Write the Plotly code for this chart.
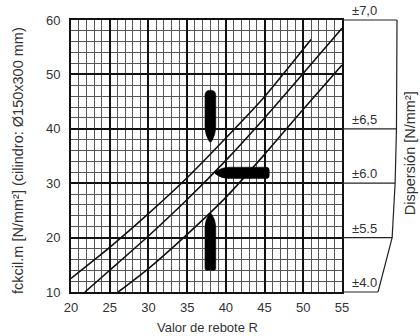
import plotly.graph_objects as go

# ---- data ----
r_upper = [20, 25, 30, 35, 40, 45, 51]
f_upper = [12.5, 18.2, 24.4, 31.0, 38.3, 45.9, 56.4]
r_middle = [21.8, 25, 30, 35, 40, 45, 50, 55]
f_middle = [10.0, 14.0, 20.3, 27.0, 34.2, 42.0, 50.2, 58.5]
r_lower = [26.1, 30, 35, 40, 45, 50, 55]
f_lower = [10.0, 14.3, 20.6, 27.4, 35.3, 43.6, 51.7]

x_ticks = [20, 25, 30, 35, 40, 45, 50, 55]
y_ticks = [10, 20, 30, 40, 50, 60]

disp_levels = [60, 40, 30, 20, 10]
disp_labels = ["±7,0", "±6,5", "±6.0", "±5.5", "±4.0"]

# bullet marks: vertical ones (x, base y, tip y); horizontal one (y, base x, tip x)
bullet_top = [38.0, 47.1, 37.6]
bullet_bottom = [38.0, 14.0, 24.4]
bullet_mid = [31.9, 45.6, 38.6]

# ---- layout constants ----
XR = [20, 55]
YR = [10, 60]
bracket_x = [1.203, 1.201, 1.196, 1.185, 1.133]  # paper x of right bracket at each level
TXT = "#333333"
FONT = "Liberation Sans, Arial, sans-serif"

fig = go.Figure()
for xs, ys in [(r_upper, f_upper), (r_middle, f_middle), (r_lower, f_lower)]:
    fig.add_trace(go.Scatter(x=xs, y=ys, mode="lines",
                             line=dict(color="#111111", width=1.6, shape="spline", smoothing=0.6),
                             hoverinfo="skip", showlegend=False))

shapes = []


def vbullet(b, hw, taper, rx, ry):
    cx, yb, yt = b
    d = 1 if yt > yb else -1
    ys = yt - d * taper
    tw = 0.12
    p = (f"M {cx-hw} {ys} L {cx-hw} {yb + d*ry} "
         f"Q {cx-hw} {yb} {cx-hw+rx} {yb} L {cx+hw-rx} {yb} "
         f"Q {cx+hw} {yb} {cx+hw} {yb + d*ry} L {cx+hw} {ys} "
         f"Q {cx+hw} {ys + d*taper*0.55} {cx+tw} {yt} L {cx-tw} {yt} "
         f"Q {cx-hw} {ys + d*taper*0.55} {cx-hw} {ys} Z")
    return dict(type="path", xref="x", yref="y", path=p,
                fillcolor="#000000", line=dict(color="#000000", width=0.5), layer="above")


def hbullet(b, hh, taper, rx, ry):
    cy, xb, xt = b
    d = 1 if xt > xb else -1
    xs = xt - d * taper
    tw = 0.15
    p = (f"M {xs} {cy-hh} L {xb + d*rx} {cy-hh} "
         f"Q {xb} {cy-hh} {xb} {cy-hh+ry} L {xb} {cy+hh-ry} "
         f"Q {xb} {cy+hh} {xb + d*rx} {cy+hh} L {xs} {cy+hh} "
         f"Q {xs + d*taper*0.55} {cy+hh} {xt} {cy+tw} L {xt} {cy-tw} "
         f"Q {xs + d*taper*0.55} {cy-hh} {xs} {cy-hh} Z")
    return dict(type="path", xref="x", yref="y", path=p,
                fillcolor="#000000", line=dict(color="#000000", width=0.5), layer="above")


shapes.append(vbullet(bullet_top, 0.70, 2.8, 0.70, 0.95))
shapes.append(vbullet(bullet_bottom, 0.70, 2.5, 0.25, 0.4))
shapes.append(hbullet(bullet_mid, 1.05, 1.8, 0.35, 0.5))

# right-hand dispersion bracket
def py(v):
    return (v - YR[0]) / (YR[1] - YR[0])

path = "M " + " L ".join(f"{bx} {py(v)}" for bx, v in zip(bracket_x, disp_levels))
shapes.append(dict(type="path", xref="paper", yref="paper", path=path,
                   line=dict(color="#222222", width=1.2)))
for bx, v in zip(bracket_x, disp_levels):
    shapes.append(dict(type="line", xref="paper", yref="paper", x0=1.0, x1=bx,
                       y0=py(v), y1=py(v), line=dict(color="#222222", width=1.2)))

annotations = []
for lab, v in zip(disp_labels, disp_levels):
    annotations.append(dict(xref="paper", yref="paper", x=1.03, y=py(v), text=lab,
                            showarrow=False, xanchor="left", yanchor="bottom", yshift=0,
                            font=dict(size=13, color=TXT, family=FONT)))

annotations.append(dict(xref="paper", yref="paper", x=-0.196, y=0.485,
                        text="fckcil.m [N/mm²] (cilindro: Ø150x300 mm)", textangle=-90,
                        showarrow=False, xanchor="center", yanchor="middle",
                        font=dict(size=14.5, color=TXT, family=FONT)))
annotations.append(dict(xref="paper", yref="paper", x=1.251, y=0.51,
                        text="Dispersión [N/mm²]", textangle=-90,
                        showarrow=False, xanchor="center", yanchor="middle",
                        font=dict(size=14.5, color=TXT, family=FONT)))
annotations.append(dict(xref="paper", yref="paper", x=0.502, y=-0.13,
                        text="Valor de rebote R",
                        showarrow=False, xanchor="center", yanchor="middle",
                        font=dict(size=13, color=TXT, family=FONT)))

fig.update_layout(
    width=420, height=336,
    margin=dict(l=71, r=78, t=20, b=44),
    paper_bgcolor="white", plot_bgcolor="white",
    font=dict(family=FONT, color=TXT, size=13),
    shapes=shapes, annotations=annotations,
    xaxis=dict(range=XR, tickmode="array", tickvals=x_ticks, ticktext=[str(v) for v in x_ticks],
               showgrid=True, gridcolor="#111111", gridwidth=2,
               minor=dict(dtick=1, tick0=20, showgrid=True, gridcolor="#555555", gridwidth=1),
               showline=True, mirror=True, linecolor="#111111", linewidth=2,
               ticks="", ticklabelstandoff=2, zeroline=False,
               tickfont=dict(size=13, color=TXT, family=FONT)),
    yaxis=dict(range=YR, tickmode="array", tickvals=y_ticks, ticktext=[str(v) for v in y_ticks],
               showgrid=True, gridcolor="#111111", gridwidth=2,
               minor=dict(dtick=2, tick0=10, showgrid=True, gridcolor="#555555", gridwidth=1),
               showline=True, mirror=True, linecolor="#111111", linewidth=2,
               ticks="", ticklabelstandoff=6, zeroline=False,
               tickfont=dict(size=13, color=TXT, family=FONT)),
)

fig.write_html("out.html", config={"displayModeBar": False},
               post_script="document.body.style.margin='0px';document.body.style.overflow='hidden';")
